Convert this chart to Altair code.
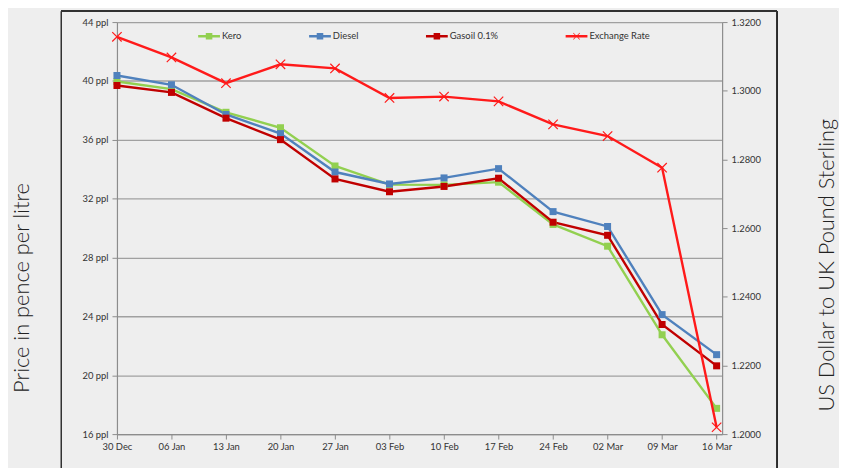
import altair as alt
import pandas as pd

# ---- data ----
dates = ["2019-12-30", "2020-01-06", "2020-01-13", "2020-01-20", "2020-01-27", "2020-02-03",
         "2020-02-10", "2020-02-17", "2020-02-24", "2020-03-02", "2020-03-09", "2020-03-16"]
kero = [39.96, 39.45, 37.87, 36.82, 34.22, 32.95, 32.94, 33.12, 30.25, 28.77, 22.75, 17.75]
diesel = [40.37, 39.74, 37.72, 36.42, 33.81, 33.00, 33.41, 34.04, 31.12, 30.11, 24.12, 21.40]
gasoil = [39.69, 39.22, 37.47, 36.01, 33.34, 32.47, 32.83, 33.39, 30.40, 29.51, 23.45, 20.64]
exchange = [1.3157, 1.3097, 1.3022, 1.3077, 1.3065, 1.2979, 1.2983, 1.2969, 1.2902, 1.2868, 1.2776, 1.2020]

series = ["Kero", "Diesel", "Gasoil 0.1%", "Exchange Rate"]
colors = ["#92D050", "#4F81BD", "#C00000", "#FF1A1A"]
price_ticks = [16, 20, 24, 28, 32, 36, 40, 44]
rate_ticks = [1.20, 1.22, 1.24, 1.26, 1.28, 1.30, 1.32]

price_df = pd.DataFrame({
    "date": dates * 3,
    "series": ["Kero"] * 12 + ["Diesel"] * 12 + ["Gasoil 0.1%"] * 12,
    "value": kero + diesel + gasoil,
})
rate_df = pd.DataFrame({"date": dates, "series": ["Exchange Rate"] * 12, "value": exchange})
all_df = pd.concat([price_df, rate_df], ignore_index=True)

FONT = "Lato"
color_scale = alt.Scale(domain=series, range=colors)
color_enc = alt.Color("series:N", scale=color_scale, legend=None)

def dt(s, hours=0):
    y, m, d = [int(p) for p in s.split("-")]
    return alt.DateTime(year=y, month=m, date=d, hours=hours, utc=True)

x_enc = alt.X(
    "date:T",
    scale=alt.Scale(type="utc", domain=[dt(dates[0]), dt(dates[-1], 17)]),
    axis=alt.Axis(values=[dt(d) for d in dates],
                  labelExpr="utcFormat(datum.value, '%d %b')",
                  title=None, grid=False, labelFlush=False, labelOverlap=False,
                  tickSize=5, labelPadding=3),
)

y_price = alt.Y(
    "value:Q",
    scale=alt.Scale(domain=[16, 44], nice=False, zero=False),
    axis=alt.Axis(values=price_ticks, labelExpr="datum.value + ' ppl'", grid=True,
                  tickSize=5, labelPadding=4, title="Price in pence per litre",
                  titleAngle=270, titleX=-96, titleY=268, titleAlign="center",
                  titleBaseline="middle", titleFontSize=22, titleFontWeight=300,
                  titleFont=FONT, titleColor="#222222"),
)

y_rate = alt.Y(
    "value:Q",
    scale=alt.Scale(domain=[1.20, 1.32], nice=False, zero=False),
    axis=alt.Axis(orient="right", values=rate_ticks, format=".4f", grid=False,
                  tickSize=5, labelPadding=4, title="US Dollar to UK Pound Sterling",
                  titleAngle=270, titleX=105, titleY=245, titleAlign="center",
                  titleBaseline="middle", titleFontSize=22, titleFontWeight=300,
                  titleFont=FONT, titleColor="#222222"),
)

legend_paths = [
    "M-1,-0.11H1V0.11H-1Z M-0.3,-0.3H0.3V0.3H-0.3Z",
    "M-1,-0.11H1V0.11H-1Z M-0.3,-0.3H0.3V0.3H-0.3Z",
    "M-1,-0.11H1V0.11H-1Z M-0.3,-0.3H0.3V0.3H-0.3Z",
    "M-1,-0.11H1V0.11H-1Z M-0.279,-0.321L0.321,0.279L0.279,0.321L-0.321,-0.279Z "
    "M0.279,-0.321L0.321,-0.279L-0.279,0.321L-0.321,0.279Z",
]

legend_props = dict(orient="none", legendX=82, legendY=3, direction="horizontal",
                    title=None, symbolSize=484, symbolStrokeWidth=0,
                    labelFont=FONT, labelFontSize=9.5, labelColor="#333333",
                    columnPadding=68, labelOffset=2)

base_p = alt.Chart(price_df)
price_lines = base_p.mark_line(strokeWidth=2.4).encode(x=x_enc, y=y_price, color=color_enc)
price_pts = base_p.mark_point(shape="square", filled=True, size=50, opacity=1).encode(
    x=x_enc, y=y_price, color=color_enc)

# legend-only layer: its points sit outside the plot and are clipped away
legend_layer = alt.Chart(all_df).mark_point(filled=True, opacity=1, clip=True).encode(
    x=x_enc,
    y=alt.value(-300),
    color=alt.Color("series:N", scale=color_scale, legend=alt.Legend(**legend_props)),
    shape=alt.Shape("series:N", scale=alt.Scale(domain=series, range=legend_paths),
                    legend=alt.Legend(**legend_props)),
)

frame = alt.Chart(price_df).mark_rect(filled=False, stroke="#333333", strokeWidth=1).encode(
    x=alt.value(-56), x2=alt.value(666), y=alt.value(-11), y2=alt.value(480))

left = alt.layer(frame, price_lines, price_pts, legend_layer).resolve_legend(
    color="independent", shape="independent")

base_r = alt.Chart(rate_df)
rate_line = base_r.mark_line(strokeWidth=2.4).encode(x=x_enc, y=y_rate, color=color_enc)
rate_pts = base_r.mark_point(shape="M-1,-1L1,1M1,-1L-1,1", filled=False, size=90,
                             strokeWidth=1.2, opacity=1).encode(x=x_enc, y=y_rate,
                                                                color=color_enc)
right = alt.layer(rate_line, rate_pts).resolve_legend(color="independent")

chart = (
    alt.layer(left, right)
    .resolve_scale(y="independent")
    .resolve_legend(color="independent", shape="independent")
    .properties(width=611, height=416,
                autosize=alt.AutoSizeParams(type="none"),
                padding={"left": 110, "top": 12, "right": 118, "bottom": 32},
                background="#EEEEEE")
    .configure_view(strokeWidth=0)
    .configure_axis(labelFont=FONT, labelFontSize=9.5, labelColor="#333333",
                    domainColor="#8C8C8C", tickColor="#8C8C8C", gridColor="#A0A0A0",
                    gridWidth=1.3, domainWidth=1.2)
)

chart.save("out.html", embed_options={"renderer": "svg", "actions": False})
